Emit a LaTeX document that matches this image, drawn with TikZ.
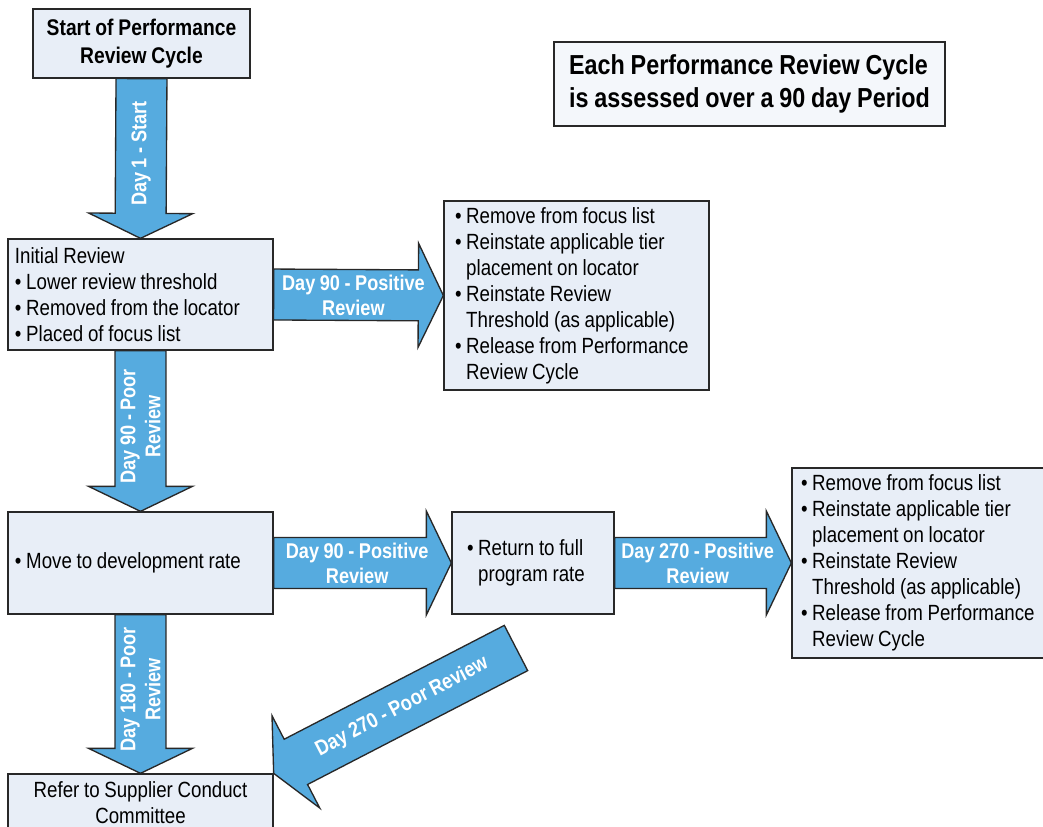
\documentclass[tikz,border=0pt]{standalone}
\usepackage{fontspec}
\setmainfont[FakeStretch=0.85,WordSpace=0.9]{Liberation Sans}
\usetikzlibrary{calc}
\hyphenpenalty=10000
\exhyphenpenalty=10000

\definecolor{arrowblue}{RGB}{86,171,223}
\definecolor{boxfill}{RGB}{232,238,247}
\definecolor{notefill}{RGB}{244,247,251}
\definecolor{edgegrey}{RGB}{40,40,40}

\newcommand\bul{\textbullet\ }
\newcommand\ind{\phantom{\textbullet\ }}

\tikzset{every picture/.style={line width=0.75pt}}
\tikzset{
  box/.style={draw=edgegrey, fill=boxfill, line width=1pt, inner ysep=0pt,
    font=\fontsize{16.5}{19.5}\selectfont,
    execute at begin node={\spaceskip=0pt\xspaceskip=0pt}},
  titletext/.style={font=\fontsize{17}{21}\selectfont\bfseries, align=center},
  fatarrow/.style={draw=edgegrey, fill=arrowblue, line width=1pt, line join=miter},
  daylabel/.style={text=white, font=\fontsize{16}{18.75}\selectfont\bfseries,
    align=center, inner sep=0pt},
}

% fat block arrow: from, tip, label, label rotation
\newcommand\fatarrow[4]{%
  \path ($(#2)!18.75pt!(#1)$) coordinate (neck);
  \draw[fatarrow] ($(#1)!19.1pt!90:(#2)$) -- ($(neck)!19.1pt!90:(#2)$)
    -- ($(neck)!39pt!90:(#2)$) -- (#2) -- ($(neck)!39pt!-90:(#2)$)
    -- ($(neck)!19.1pt!-90:(#2)$) -- ($(#1)!19.1pt!-90:(#2)$) -- cycle;
  \node[daylabel, rotate=#4] at ($(#1)!0.47!(#2)$) {#3};
}

\begin{document}
\begin{tikzpicture}[x=0.75pt,y=0.75pt,yscale=-1,xscale=1]
	\useasboundingbox (0,0) rectangle (1043,826);
	
	% Boxes
	\node[box, titletext, minimum width=162.75pt, minimum height=51.75pt] (start) at (141.5,43.5) {Start of Performance\\Review Cycle};
	\node[box, fill=notefill, minimum width=293.25pt, minimum height=63pt, align=left,
	  font=\fontsize{20.6}{24.75}\selectfont\bfseries] (note) at (749.5,84) {Each Performance Review Cycle\\is assessed over a 90 day Period};
	\node[box, minimum width=198.75pt, minimum height=83.25pt, inner xsep=5.25pt, text width=188.25pt, align=left] (init) at (140.5,294.5)
	  {Initial Review\\ \bul Lower review threshold\\ \bul Removed from the locator\\ \bul Placed of focus list};
	\node[box, minimum width=198.75pt, minimum height=141.75pt, inner xsep=8.25pt, text width=182.25pt, align=left] (release1) at (576.5,295.5)
	  {\bul Remove from focus list\\ \bul Reinstate applicable tier\\ \ind placement on locator\\ \bul Reinstate Review\\ \ind Threshold (as applicable)\\ \bul Release from Performance\\ \ind Review Cycle};
	\node[box, minimum width=198.75pt, minimum height=76.5pt, inner xsep=5.25pt, text width=188.25pt, align=left] (devrate) at (140.5,563)
	  {\bul Move to development rate};
	\node[box, minimum width=121.5pt, minimum height=76.5pt, inner xsep=11.25pt, text width=99pt, align=left] (fullrate) at (533,563)
	  {\bul Return to full\\ \ind program rate};
	\node[box, minimum width=201pt, minimum height=142.5pt, inner xsep=6.75pt, text width=187.5pt, align=left] (release2) at (926,563)
	  {\bul Remove from focus list\\ \bul Reinstate applicable tier\\ \ind placement on locator\\ \bul Reinstate Review\\ \ind Threshold (as applicable)\\ \bul Release from Performance\\ \ind Review Cycle};
	\node[box, minimum width=198.75pt, minimum height=43.5pt, align=center] (committee) at (140.5,803)
	  {Refer to Supplier Conduct\\Committee};
	
	% free tail of the diagonal arrow
	\coordinate (poortail) at (516,648);
	
	% Block arrows
	\fatarrow{start.south}{init.north}{Day 1 - Start}{90}
	\fatarrow{init.east}{release1.west}{Day 90 - Positive\\Review}{0}
	\fatarrow{init.south}{devrate.north}{Day 90 - Poor\\Review}{90}
	\fatarrow{devrate.east}{fullrate.west}{Day 90 - Positive\\Review}{0}
	\fatarrow{fullrate.east}{release2.west}{Day 270 - Positive\\Review}{0}
	\fatarrow{devrate.south}{committee.north}{Day 180 - Poor\\Review}{90}
	\fatarrow{poortail}{committee.north east}{Day 270 - Poor Review}{27.6}
	
\end{tikzpicture}
\end{document}
